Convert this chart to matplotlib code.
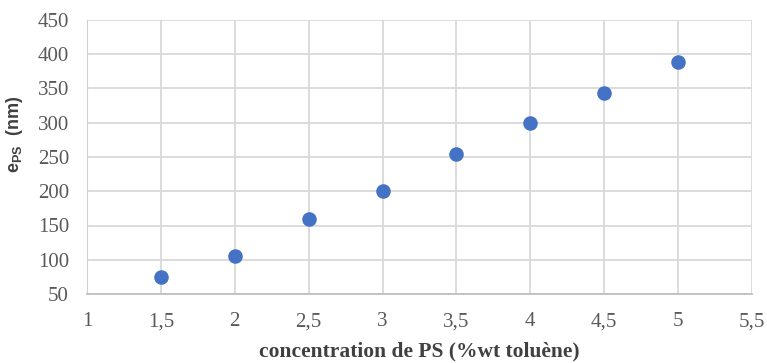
import numpy as np
import matplotlib.pyplot as plt
from matplotlib.ticker import FuncFormatter

# données
concentration = [1.5, 2.0, 2.5, 3.0, 3.5, 4.0, 4.5, 5.0]
epaisseur = [75, 105, 160, 200, 255, 300, 344, 389]
x_ticks = [1, 1.5, 2, 2.5, 3, 3.5, 4, 4.5, 5, 5.5]
y_ticks = [50, 100, 150, 200, 250, 300, 350, 400, 450]

fig = plt.figure(figsize=(7.67, 3.63), dpi=100)
ax = fig.add_axes([87 / 767, 1 - 294 / 363, 665 / 767, 274 / 363])

ax.scatter(concentration, epaisseur, s=110, color='#4472C4', zorder=3, linewidths=0)

ax.set_xlim(1, 5.5)
ax.set_ylim(50, 450)
ax.set_xticks(x_ticks)
ax.set_yticks(y_ticks)
ax.xaxis.set_major_formatter(FuncFormatter(lambda v, p: ('%g' % v).replace('.', ',')))

ax.grid(True, color='#d9d9d9', linewidth=1.3)
ax.set_axisbelow(True)
for s in ax.spines.values():
    s.set_visible(False)
ax.spines['left'].set_visible(True)
ax.spines['left'].set_color('#d0d0d0')
ax.spines['bottom'].set_visible(True)
ax.spines['bottom'].set_color('#bfbfbf')
ax.spines['bottom'].set_linewidth(1.3)

ax.tick_params(length=0, pad=13, labelsize=15, labelcolor='#595959')
for lab in ax.get_xticklabels() + ax.get_yticklabels():
    lab.set_fontfamily('Liberation Serif')

ax.set_xlabel('concentration de PS (%wt toluène)', fontfamily='Liberation Serif',
              fontweight='bold', fontsize=15.5, color='#404040')
ax.xaxis.set_label_coords(0.5, -0.172)
ax.set_ylabel(r'e$_{\mathregular{PS}}$  (nm)', fontfamily='Liberation Sans',
              fontweight='bold', fontsize=13, color='#404040')
ax.yaxis.set_label_coords(-0.093, 0.584)

fig.savefig('out.png', dpi=100)
